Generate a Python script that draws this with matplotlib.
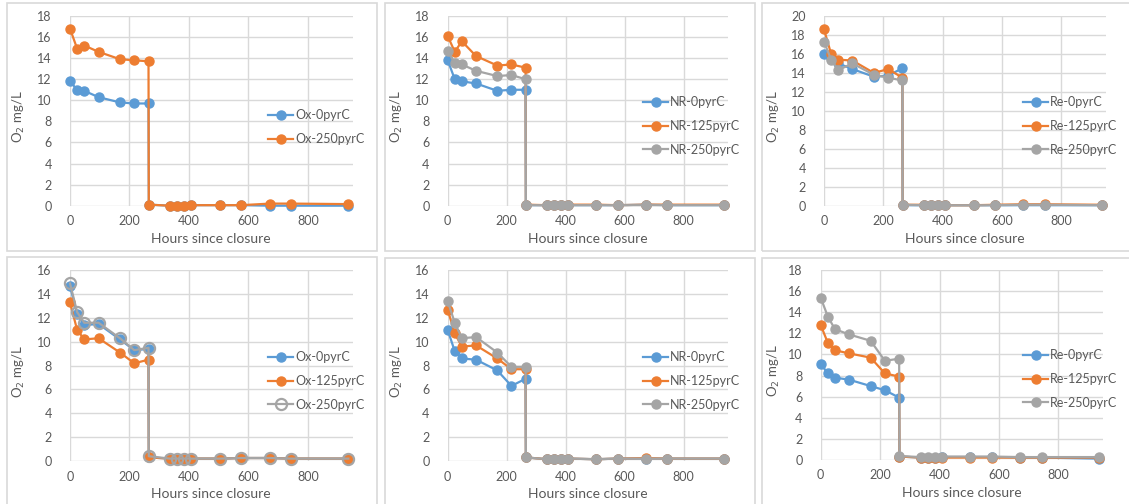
import matplotlib
matplotlib.use('Agg')
import matplotlib.pyplot as plt
from matplotlib.patches import Rectangle

# sampling times (hours since closure), shared by all series
hours = [0, 24, 48, 96, 168, 216, 264, 265, 336, 360, 384, 408, 504, 576, 672, 744, 936]

# top row
ox_top_0 = [11.8, 11.0, 10.9, 10.3, 9.8, 9.7, 9.7, 0.1, 0.0, 0.0, 0.0, 0.05, 0.05, 0.05, 0.0, 0.0, 0.0]
ox_top_250 = [16.8, 14.9, 15.2, 14.6, 13.9, 13.8, 13.7, 0.1, 0.0, 0.0, 0.0, 0.05, 0.05, 0.05, 0.2, 0.2, 0.15]

nr_top_0 = [13.8, 12.0, 11.8, 11.6, 10.9, 11.0, 11.0, 0.05, 0.05, 0.05, 0.05, 0.05, 0.05, 0.05, 0.1, 0.05, 0.05]
nr_top_125 = [16.1, 14.6, 15.6, 14.2, 13.3, 13.4, 13.1, 0.1, 0.05, 0.05, 0.05, 0.1, 0.1, 0.05, 0.1, 0.1, 0.1]
nr_top_250 = [14.7, 13.5, 13.4, 12.8, 12.3, 12.4, 12.0, 0.05, 0.05, 0.05, 0.05, 0.05, 0.05, 0.05, 0.05, 0.05, 0.05]

re_top_0 = [16.0, 15.6, 15.0, 14.4, 13.6, 13.7, 14.5, 0.05, 0.05, 0.05, 0.05, 0.05, 0.05, 0.05, 0.05, 0.05, 0.05]
re_top_125 = [18.6, 16.0, 15.4, 15.3, 14.0, 14.4, 13.5, 0.1, 0.1, 0.05, 0.05, 0.05, 0.05, 0.1, 0.15, 0.15, 0.1]
re_top_250 = [17.3, 15.4, 14.3, 15.0, 13.8, 13.5, 13.2, 0.1, 0.05, 0.05, 0.05, 0.05, 0.05, 0.05, 0.1, 0.1, 0.05]

# bottom row
ox_bot_0 = [14.7, 12.3, 11.4, 11.5, 10.2, 9.3, 9.4, 0.3, 0.2, 0.2, 0.2, 0.2, 0.2, 0.25, 0.25, 0.2, 0.2]
ox_bot_125 = [13.3, 11.0, 10.2, 10.3, 9.1, 8.2, 8.5, 0.3, 0.2, 0.2, 0.2, 0.2, 0.2, 0.25, 0.25, 0.2, 0.2]
ox_bot_250 = [14.9, 12.5, 11.6, 11.6, 10.3, 9.3, 9.5, 0.4, 0.2, 0.2, 0.2, 0.2, 0.2, 0.25, 0.25, 0.2, 0.2]

nr_bot_0 = [11.0, 9.2, 8.6, 8.5, 7.6, 6.3, 6.9, 0.3, 0.15, 0.15, 0.2, 0.2, 0.15, 0.2, 0.2, 0.2, 0.2]
nr_bot_125 = [12.7, 10.7, 9.6, 9.7, 8.6, 7.7, 7.7, 0.3, 0.15, 0.15, 0.2, 0.2, 0.15, 0.2, 0.25, 0.2, 0.2]
nr_bot_250 = [13.4, 11.6, 10.3, 10.4, 9.1, 7.9, 7.9, 0.3, 0.15, 0.15, 0.2, 0.2, 0.15, 0.2, 0.2, 0.2, 0.2]

re_bot_0 = [9.1, 8.2, 7.8, 7.6, 7.0, 6.6, 5.9, 0.3, 0.2, 0.2, 0.2, 0.25, 0.25, 0.25, 0.2, 0.2, 0.1]
re_bot_125 = [12.8, 11.1, 10.4, 10.1, 9.7, 8.2, 7.9, 0.3, 0.2, 0.2, 0.2, 0.2, 0.2, 0.2, 0.2, 0.2, 0.2]
re_bot_250 = [15.4, 13.6, 12.4, 11.9, 11.3, 9.4, 9.6, 0.35, 0.25, 0.25, 0.25, 0.3, 0.3, 0.3, 0.25, 0.25, 0.25]

BLUE, ORANGE, GRAY = '#5B9BD5', '#ED7D31', '#A5A5A5'
TXT = '#595959'
GRID = '#D9D9D9'

W, H = 1129, 504
plt.rcParams['font.family'] = ['Lato', 'DejaVu Sans']

fig = plt.figure(figsize=(W / 100, H / 100), dpi=100)
fig.patch.set_facecolor('white')


def fx(px):
    return px / W


def fy(py):
    return 1 - py / H


panels = [
    # box l, t, r, b ; plot area l, r, t, b ; ymax ; legend x, y ; series
    dict(box=(7, 3, 377, 251), area=(70, 352.5, 16, 205.7), ymax=18, leg=(268, 109),
         series=[('Ox-0pyrC', ox_top_0, BLUE, 'o'), ('Ox-250pyrC', ox_top_250, ORANGE, 'o')]),
    dict(box=(385, 3, 755, 251), area=(447.7, 728, 16, 205.7), ymax=18, leg=(643, 96),
         series=[('NR-0pyrC', nr_top_0, BLUE, 'o'), ('NR-125pyrC', nr_top_125, ORANGE, 'o'),
                 ('NR-250pyrC', nr_top_250, GRAY, 'o')]),
    dict(box=(762, 3, 1132, 251), area=(824, 1106, 16, 205.7), ymax=20, leg=(1023, 96),
         series=[('Re-0pyrC', re_top_0, BLUE, 'o'), ('Re-125pyrC', re_top_125, ORANGE, 'o'),
                 ('Re-250pyrC', re_top_250, GRAY, 'o')]),
    dict(box=(7, 257, 377, 508), area=(70, 352.5, 270.3, 461), ymax=16, leg=(268, 351),
         series=[('Ox-0pyrC', ox_bot_0, BLUE, 'o'), ('Ox-125pyrC', ox_bot_125, ORANGE, 'o'),
                 ('Ox-250pyrC', ox_bot_250, GRAY, 'ring')]),
    dict(box=(385, 258, 755, 508), area=(447.7, 728, 270.3, 461), ymax=16, leg=(643, 351),
         series=[('NR-0pyrC', nr_bot_0, BLUE, 'o'), ('NR-125pyrC', nr_bot_125, ORANGE, 'o'),
                 ('NR-250pyrC', nr_bot_250, GRAY, 'o')]),
    dict(box=(762, 258, 1132, 508), area=(820.7, 1103, 270.3, 459.7), ymax=18, leg=(1023, 349),
         series=[('Re-0pyrC', re_bot_0, BLUE, 'o'), ('Re-125pyrC', re_bot_125, ORANGE, 'o'),
                 ('Re-250pyrC', re_bot_250, GRAY, 'o')]),
]

for p in panels:
    bl, bt, br, bb = p['box']
    fig.add_artist(Rectangle((fx(bl), fy(bb)), fx(br - bl), (bb - bt) / H,
                             transform=fig.transFigure, fill=False,
                             edgecolor=GRID, lw=1.2))

    l, r, t, b = p['area']
    ax = fig.add_axes([fx(l), fy(b), fx(r - l), (b - t) / H])
    ax.set_xlim(0, 950)
    ax.set_ylim(0, p['ymax'])
    ax.set_xticks(range(0, 801, 200))
    ax.set_yticks(range(0, p['ymax'] + 1, 2))
    ax.grid(True, color=GRID, lw=1.0)
    ax.set_axisbelow(True)
    for s in ax.spines.values():
        s.set_visible(False)
    ax.tick_params(length=0, labelsize=9, colors=TXT)
    ax.tick_params(axis='y', pad=13)
    ax.tick_params(axis='x', pad=7)
    ax.set_facecolor('none')

    for name, vals, col, mk in p['series']:
        if mk == 'ring':
            ax.plot(hours, vals, color=col, lw=1.6, marker='o', ms=8,
                    mfc='none', mec=col, mew=1.6, label=name, clip_on=False)
        else:
            ax.plot(hours, vals, color=col, lw=1.6, marker='o', ms=6.5,
                    label=name, clip_on=False)

    # axis titles, positioned relative to the chart box
    ax.set_ylabel('O$_2$ mg/L', fontsize=9.5, color=TXT)
    ax.yaxis.set_label_coords((bl + 20 - l) / (r - l), 0.47)
    ax.set_xlabel('Hours since closure', fontsize=10, color=TXT)
    ax.xaxis.set_label_coords(0.5, -33.5 / (b - t))
    ax.xaxis.label.set_va('center')

    lx, ly = p['leg']
    ax.legend(loc='upper left', bbox_to_anchor=(fx(lx), fy(ly)),
              bbox_transform=fig.transFigure, frameon=False, fontsize=9,
              handlelength=2.0, handletextpad=0.15, labelspacing=0.95,
              borderpad=0, borderaxespad=0, labelcolor=TXT)

fig.savefig('out.png', dpi=100)
